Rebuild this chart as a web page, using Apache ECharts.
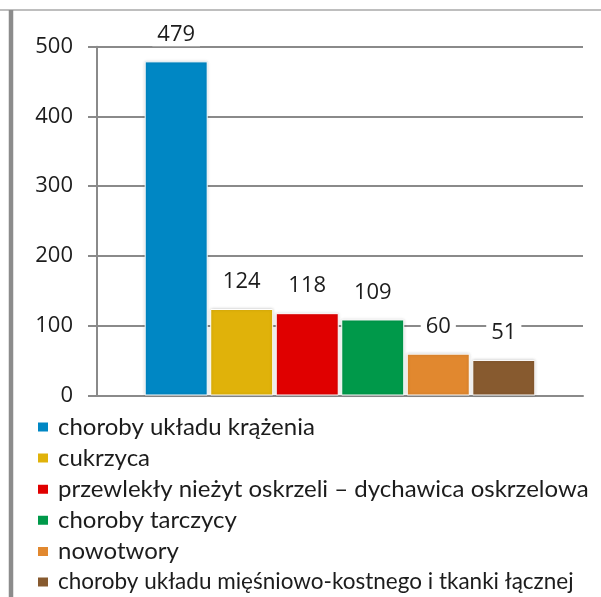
<!DOCTYPE html>
<html>
<head>
<meta charset="utf-8">
<script src="https://cdn.jsdelivr.net/npm/echarts@6/dist/echarts.min.js"></script>
<style>
	html, body { margin: 0; padding: 0; background: #fff; }
	#chart { width: 601px; height: 597px; }
</style>
</head>
<body>
<div id="chart"></div>
<script>
// dane z wykresu
var names = [
	'choroby układu krążenia',
	'cukrzyca',
	'przewlekły nieżyt oskrzeli – dychawica oskrzelowa',
	'choroby tarczycy',
	'nowotwory',
	'choroby układu mięśniowo-kostnego i tkanki łącznej'
];
var values = [479, 124, 118, 109, 60, 51];
var colors = ['#0087c4', '#e0b20a', '#e00000', '#00994a', '#e1882f', '#875a2f'];
var yTicks = [0, 100, 200, 300, 400, 500];

var FONT = 'Open Sans';
var LEG_FONT = 'Lato';
var TXT = '#1c1c1c';
var GRID = '#8a8a8a';

var myChart = echarts.init(document.getElementById('chart'));

var series = names.map(function (n, i) {
	return {
		name: n,
		type: 'bar',
		data: [values[i]],
		barWidth: 63,
		barGap: '4%',
		itemStyle: {
			color: colors[i],
			borderColor: '#ffffff',
			borderWidth: 1,
			shadowColor: 'rgba(0,0,0,0.18)',
			shadowBlur: 3
		},
		label: {
			show: true,
			position: 'top',
			distance: 15,
			fontFamily: FONT,
			fontSize: 22,
			color: TXT,
			backgroundColor: '#ffffff',
			padding: [1, 5]
		}
	};
});

// ostatnia pozycja legendy troche wezsza, jak w oryginale
var legendData = names.map(function (n, i) {
	return i === names.length - 1 ? { name: n, textStyle: { fontSize: 22.5 } } : n;
});

var option = {
	animation: false,
	backgroundColor: '#ffffff',
	color: colors,
	grid: {
		left: 97,
		right: 18,
		top: 46.7,
		bottom: 201.5
	},
	xAxis: {
		type: 'category',
		data: [''],
		axisLine: { show: true, lineStyle: { color: GRID, width: 2 } },
		axisTick: { show: false },
		axisLabel: { show: false }
	},
	yAxis: {
		type: 'value',
		min: yTicks[0],
		max: yTicks[yTicks.length - 1],
		interval: 100,
		axisLine: { show: true, lineStyle: { color: GRID, width: 2 } },
		axisTick: { show: true, length: 9, lineStyle: { color: GRID, width: 2 } },
		axisLabel: {
			margin: 24,
			fontFamily: FONT,
			fontSize: 22,
			color: TXT
		},
		splitLine: { lineStyle: { color: GRID, width: 2 } }
	},
	legend: {
		orient: 'vertical',
		left: 36,
		top: 415,
		height: 200,
		padding: 0,
		itemWidth: 12,
		itemHeight: 11,
		itemGap: 7.1,
		icon: 'rect',
		textStyle: {
			fontFamily: LEG_FONT,
			fontSize: 24,
			color: TXT,
			padding: [0, 0, 0, 4]
		},
		data: legendData
	},
	graphic: [
		{
			type: 'line',
			shape: { x1: 0, y1: 10, x2: 601, y2: 10 },
			style: { stroke: '#a8a8a8', lineWidth: 1.5 }
		},
		{
			type: 'line',
			shape: { x1: 11, y1: 10, x2: 11, y2: 597 },
			style: { stroke: '#8c8c8c', lineWidth: 4.5 }
		}
	],
	series: series
};

myChart.setOption(option);
</script>
</body>
</html>
